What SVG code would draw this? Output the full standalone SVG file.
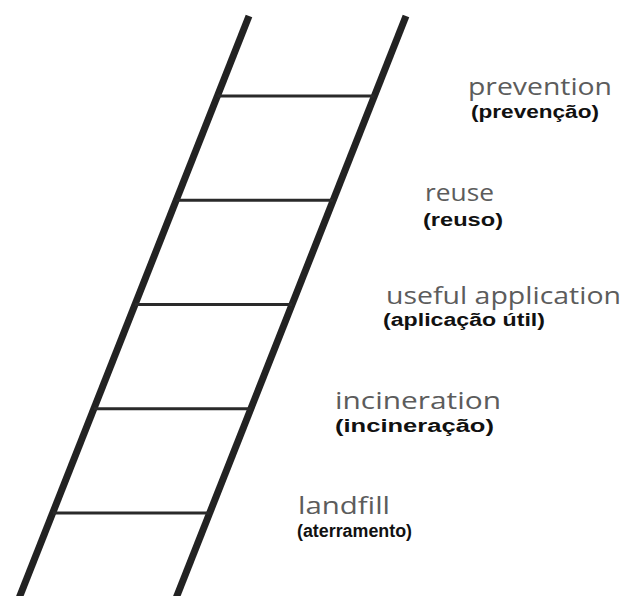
<svg xmlns="http://www.w3.org/2000/svg" width="625" height="596" viewBox="0 0 625 596">
  <style>
    .rail { stroke: #222; stroke-width: 7; fill: none; }
    .rung { stroke: #2a2a2a; stroke-width: 3; fill: none; }
    .en { font-family: "Open Sans", "Lato", sans-serif; font-size: 23px; fill: #5c5c5c; }
    .pt { font-family: "Liberation Sans", Arial, sans-serif; font-weight: bold; font-size: 18px; fill: #111; }
  </style>
  <rect width="625" height="596" fill="#fff"/>
  <g id="ladder">
    <line class="rail" x1="249" y1="16" x2="18.3" y2="600"/>
    <line class="rail" x1="406" y1="16" x2="175.3" y2="600"/>
    <g id="rungs">
      <line class="rung" x1="217.4" y1="96" x2="374.4" y2="96"/>
      <line class="rung" x1="176.2" y1="200.3" x2="333.2" y2="200.3"/>
      <line class="rung" x1="135" y1="304.5" x2="292" y2="304.5"/>
      <line class="rung" x1="93.9" y1="408.8" x2="250.9" y2="408.8"/>
      <line class="rung" x1="52.7" y1="513" x2="209.7" y2="513"/>
    </g>
  </g>
  <g id="prevention">
    <text class="en" x="468" y="95" textLength="144" lengthAdjust="spacingAndGlyphs">prevention</text>
    <text class="pt" x="471" y="118" textLength="128" lengthAdjust="spacingAndGlyphs">(prevenção)</text>
  </g>
  <g id="reuse">
    <text class="en" x="425" y="201" textLength="69" lengthAdjust="spacingAndGlyphs">reuse</text>
    <text class="pt" x="423" y="226" textLength="80" lengthAdjust="spacingAndGlyphs">(reuso)</text>
  </g>
  <g id="useful-application">
    <text class="en" x="386" y="304" textLength="235" lengthAdjust="spacingAndGlyphs">useful application</text>
    <text class="pt" x="383" y="326" textLength="162" lengthAdjust="spacingAndGlyphs">(aplicação útil)</text>
  </g>
  <g id="incineration">
    <text class="en" x="335" y="409" textLength="166" lengthAdjust="spacingAndGlyphs">incineration</text>
    <text class="pt" x="335" y="432" textLength="159" lengthAdjust="spacingAndGlyphs">(incineração)</text>
  </g>
  <g id="landfill">
    <text class="en" x="298" y="514" textLength="92" lengthAdjust="spacingAndGlyphs">landfill</text>
    <text class="pt" x="297" y="537" textLength="115" lengthAdjust="spacingAndGlyphs">(aterramento)</text>
  </g>
</svg>
